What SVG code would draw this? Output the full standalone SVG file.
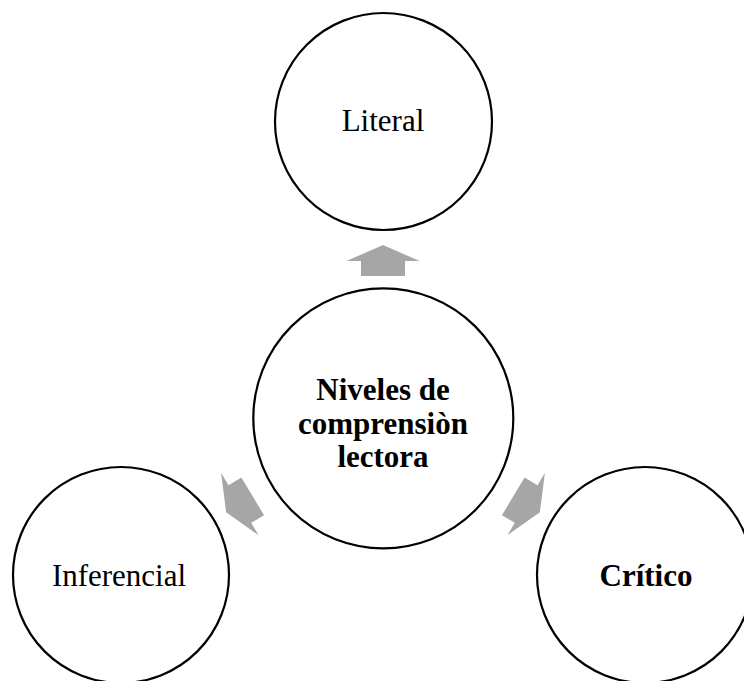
<svg xmlns="http://www.w3.org/2000/svg" width="744" height="681" viewBox="0 0 744 681">
  <defs>
    <style>
      .node { fill: #ffffff; stroke: #000000; stroke-width: 2.2; }
      .label { font-family: "Liberation Serif", "Times New Roman", serif; font-size: 31px; fill: #000000; text-anchor: middle; }
      .bold { font-weight: bold; }
      .arrow { fill: #a6a6a6; stroke: none; }
    </style>
    <!-- block arrow pointing up, origin at the hub centre -->
    <polygon id="blockArrow" points="0,-173 36.5,-157 22,-157 22,-142 -22,-142 -22,-157 -36.5,-157"/>
  </defs>
  <rect width="744" height="681" fill="#ffffff"/>

  <g id="connectors">
    <use href="#blockArrow" class="arrow" transform="translate(383 418)"/>
    <use href="#blockArrow" class="arrow" transform="translate(383 418) rotate(-121) translate(0 -10)"/>
    <use href="#blockArrow" class="arrow" transform="translate(383 418) rotate(121) translate(0 -10)"/>
  </g>

  <g id="node-literal">
    <circle class="node" cx="383.5" cy="121.5" r="108.5"/>
    <text class="label" x="383" y="131">Literal</text>
  </g>

  <g id="node-hub">
    <circle class="node" cx="383.3" cy="418.3" r="130"/>
    <text class="label bold" x="383" y="400">Niveles de</text>
    <text class="label bold" x="383" y="434">comprensiòn</text>
    <text class="label bold" x="383" y="467">lectora</text>
  </g>

  <g id="node-inferencial">
    <circle class="node" cx="121" cy="575" r="108"/>
    <text class="label" x="119" y="586">Inferencial</text>
  </g>

  <g id="node-critico">
    <circle class="node" cx="645" cy="575" r="108"/>
    <text class="label bold" x="646" y="586">Crítico</text>
  </g>
</svg>
